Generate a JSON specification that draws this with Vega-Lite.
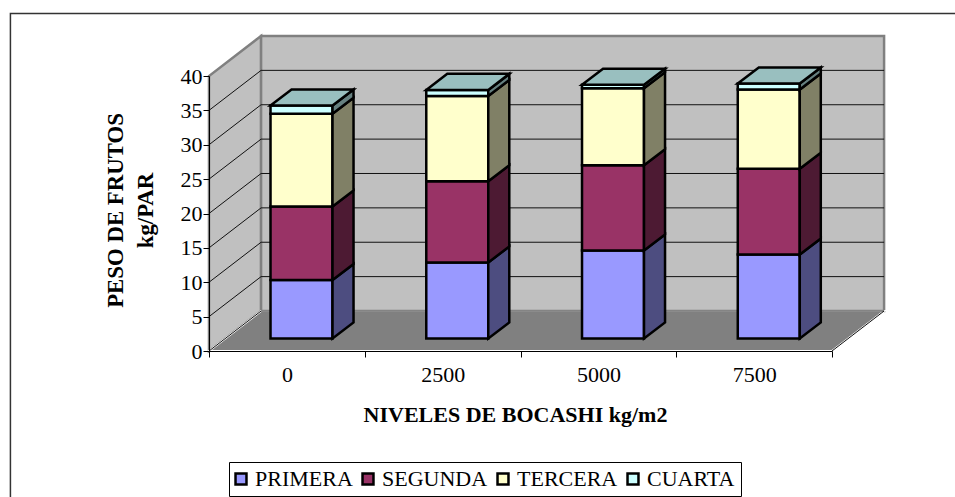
{
  "$schema": "https://vega.github.io/schema/vega-lite/v6.json",
  "width": 623,
  "height": 275,
  "autosize": {"type": "none"},
  "padding": {"left": 209, "top": 76, "right": 123, "bottom": 146},
  "background": "white",
  "config": {"view": {"stroke": null}, "font": "Liberation Serif"},
  "datasets": {
    "pesos": [
      {"nivel": 0, "serie": "PRIMERA", "peso": 8.5},
      {"nivel": 0, "serie": "SEGUNDA", "peso": 10.7},
      {"nivel": 0, "serie": "TERCERA", "peso": 13.5},
      {"nivel": 0, "serie": "CUARTA", "peso": 1.2},
      {"nivel": 2500, "serie": "PRIMERA", "peso": 11.06},
      {"nivel": 2500, "serie": "SEGUNDA", "peso": 11.8},
      {"nivel": 2500, "serie": "TERCERA", "peso": 12.4},
      {"nivel": 2500, "serie": "CUARTA", "peso": 0.9},
      {"nivel": 5000, "serie": "PRIMERA", "peso": 12.8},
      {"nivel": 5000, "serie": "SEGUNDA", "peso": 12.4},
      {"nivel": 5000, "serie": "TERCERA", "peso": 11.2},
      {"nivel": 5000, "serie": "CUARTA", "peso": 0.5},
      {"nivel": 7500, "serie": "PRIMERA", "peso": 12.2},
      {"nivel": 7500, "serie": "SEGUNDA", "peso": 12.5},
      {"nivel": 7500, "serie": "TERCERA", "peso": 11.5},
      {"nivel": 7500, "serie": "CUARTA", "peso": 0.9}
    ],
    "marcas": [
      {"marca": 0}, {"marca": 5}, {"marca": 10}, {"marca": 15}, {"marca": 20},
      {"marca": 25}, {"marca": 30}, {"marca": 35}
    ],
    "fondo": [{"prof": 0}, {"prof": 1}]
  },
  "encoding": {
    "x": {
      "field": "px",
      "type": "quantitative",
      "stack": null,
      "scale": {"domain": [0, 4], "nice": false, "zero": false},
      "axis": {
        "values": [0, 0.5, 1, 1.5, 2, 2.5, 3, 3.5, 4],
        "labelExpr": "datum.value % 1 ? format((datum.value - 0.5) * 2500, 'd') : ''",
        "tickOpacity": {"condition": {"test": "datum.value % 1 != 0", "value": 0}, "value": 1},
        "grid": false,
        "domainColor": "black",
        "tickColor": "black",
        "tickSize": 6,
        "labelFont": "Liberation Serif",
        "labelFontSize": 22,
        "labelColor": "black",
        "labelPadding": 7,
        "labelOverlap": false,
        "title": "NIVELES DE BOCASHI kg/m2",
        "titleFont": "Liberation Serif",
        "titleFontSize": 22,
        "titleFontWeight": "bold",
        "titleColor": "black",
        "titleX": 306,
        "titleY": 53,
        "zindex": 1
      }
    },
    "y": {
      "field": "py",
      "type": "quantitative",
      "stack": null,
      "scale": {"domain": [0, 40], "nice": false, "zero": false},
      "axis": {
        "values": [0, 5, 10, 15, 20, 25, 30, 35, 40],
        "grid": false,
        "domainColor": "black",
        "tickColor": "black",
        "tickSize": 6,
        "labelFont": "Liberation Serif",
        "labelFontSize": 22,
        "labelColor": "black",
        "labelPadding": 1,
        "title": ["PESO DE FRUTOS", "kg/PAR"],
        "titleFont": "Liberation Serif",
        "titleFontSize": 22.8,
        "titleFontWeight": "bold",
        "titleColor": "black",
        "titleLineHeight": 30,
        "titleX": -82,
        "titleY": 134,
        "zindex": 1
      }
    }
  },
  "layer": [
    {
      "data": {"values": [{"marco": 1}]},
      "transform": [
        {"calculate": "-1.275", "as": "px"},
        {"calculate": "6", "as": "px2"},
        {"calculate": "49.09", "as": "py"},
        {"calculate": "-40", "as": "py2"}
      ],
      "mark": {"type": "rect", "fill": "white", "stroke": "#333333", "strokeWidth": 1.5},
      "encoding": {"x2": {"field": "px2"}, "y2": {"field": "py2"}}
    },
    {
      "data": {"name": "fondo"},
      "transform": [
        {"calculate": "datum.prof * 0.3344", "as": "px"},
        {"calculate": "datum.prof * 5.82", "as": "py"},
        {"calculate": "40 + datum.prof * 5.82", "as": "py2"}
      ],
      "mark": {"type": "area", "fill": "#C0C0C0", "stroke": "#808080", "strokeWidth": 2.5},
      "encoding": {"y2": {"field": "py2"}}
    },
    {
      "data": {"values": [{"pared": 1}]},
      "transform": [
        {"calculate": "0.3344", "as": "px"},
        {"calculate": "4.3344", "as": "px2"},
        {"calculate": "5.82", "as": "py"},
        {"calculate": "45.82", "as": "py2"}
      ],
      "mark": {"type": "rect", "fill": "#C0C0C0", "stroke": "#808080", "strokeWidth": 2.5},
      "encoding": {"x2": {"field": "px2"}, "y2": {"field": "py2"}}
    },
    {
      "data": {"name": "fondo"},
      "transform": [
        {"calculate": "datum.prof * 5.82", "as": "py"},
        {"calculate": "datum.prof * 0.3344", "as": "px"},
        {"calculate": "4 + datum.prof * 0.3344", "as": "px2"}
      ],
      "mark": {"type": "area", "orient": "horizontal", "fill": "#808080", "stroke": "white", "strokeWidth": 2},
      "encoding": {"x2": {"field": "px2"}}
    },
    {
      "data": {"name": "marcas"},
      "transform": [
        {"calculate": "0.3344", "as": "px"},
        {"calculate": "4.3344", "as": "px2"},
        {"calculate": "datum.marca + 5.82", "as": "py"},
        {"calculate": "datum.py", "as": "py2"}
      ],
      "mark": {"type": "rule", "color": "#111111", "strokeWidth": 1},
      "encoding": {"x2": {"field": "px2"}, "y2": {"field": "py2"}}
    },
    {
      "data": {"name": "marcas"},
      "transform": [
        {"calculate": "0", "as": "px"},
        {"calculate": "0.3344", "as": "px2"},
        {"calculate": "datum.marca", "as": "py"},
        {"calculate": "datum.marca + 5.82", "as": "py2"}
      ],
      "mark": {"type": "rule", "color": "#111111", "strokeWidth": 1},
      "encoding": {"x2": {"field": "px2"}, "y2": {"field": "py2"}}
    },
    {
      "data": {"values": [{"borde": 1}]},
      "transform": [
        {"calculate": "4", "as": "px"},
        {"calculate": "4.3344", "as": "px2"},
        {"calculate": "0", "as": "py"},
        {"calculate": "5.82", "as": "py2"}
      ],
      "mark": {"type": "rule", "color": "#111111", "strokeWidth": 1},
      "encoding": {"x2": {"field": "px2"}, "y2": {"field": "py2"}}
    },
    {
      "data": {"name": "pesos"},
      "transform": [
        {"calculate": "indexof(['PRIMERA','SEGUNDA','TERCERA','CUARTA'], datum.serie)", "as": "orden"},
        {"stack": "peso", "groupby": ["nivel"], "sort": [{"field": "orden"}], "as": ["ini", "fin"]},
        {"calculate": "datum.nivel / 2500 + 0.395", "as": "px"},
        {"calculate": "datum.px + 0.398", "as": "px2"},
        {"calculate": "datum.fin + 1.82", "as": "py"},
        {"calculate": "datum.ini + 1.82", "as": "py2"}
      ],
      "mark": {"type": "rect", "stroke": "black", "strokeWidth": 2.5},
      "encoding": {
        "x2": {"field": "px2"},
        "y2": {"field": "py2"},
        "fill": {
          "field": "serie",
          "type": "nominal",
          "scale": {
            "domain": ["PRIMERA", "SEGUNDA", "TERCERA", "CUARTA"],
            "range": ["#9999FF", "#993366", "#FFFFCC", "#CCFFFF"]
          },
          "legend": {
            "orient": "none",
            "legendX": 20,
            "legendY": 386,
            "direction": "horizontal",
            "columns": 4,
            "title": null,
            "gridAlign": "none",
            "columnPadding": 4,
            "padding": 6,
            "strokeColor": "black",
            "fillColor": "white",
            "symbolType": "square",
            "symbolSize": 120,
            "symbolOffset": -5,
            "symbolStrokeColor": "black",
            "symbolStrokeWidth": 2.5,
            "symbolOpacity": 1,
            "labelFont": "Liberation Serif",
            "labelFontSize": 22,
            "labelColor": "black",
            "labelOffset": 3,
            "labelLimit": 200
          }
        }
      }
    },
    {
      "data": {"name": "pesos"},
      "transform": [
        {"calculate": "indexof(['PRIMERA','SEGUNDA','TERCERA','CUARTA'], datum.serie)", "as": "orden"},
        {"stack": "peso", "groupby": ["nivel"], "sort": [{"field": "orden"}], "as": ["ini", "fin"]},
        {"calculate": "[0, 1]", "as": "profs"},
        {"flatten": ["profs"], "as": ["prof"]},
        {"calculate": "datum.nivel / 2500 + 0.793 + datum.prof * 0.135", "as": "px"},
        {"calculate": "datum.fin + 1.82 + datum.prof * 2.33", "as": "py"},
        {"calculate": "datum.ini + 1.82 + datum.prof * 2.33", "as": "py2"}
      ],
      "mark": {"type": "area", "stroke": "black", "strokeWidth": 2.5},
      "encoding": {
        "y2": {"field": "py2"},
        "detail": {"field": "nivel"},
        "fill": {
          "field": "serie",
          "type": "nominal",
          "scale": {
            "domain": ["PRIMERA", "SEGUNDA", "TERCERA", "CUARTA"],
            "range": ["#4D4D80", "#4D1A33", "#808066", "#668080"]
          },
          "legend": null
        }
      }
    },
    {
      "data": {"name": "pesos"},
      "transform": [
        {"calculate": "indexof(['PRIMERA','SEGUNDA','TERCERA','CUARTA'], datum.serie)", "as": "orden"},
        {"stack": "peso", "groupby": ["nivel"], "sort": [{"field": "orden"}], "as": ["ini", "fin"]},
        {"filter": "datum.serie === 'CUARTA'"},
        {"calculate": "[0, 1]", "as": "profs"},
        {"flatten": ["profs"], "as": ["prof"]},
        {"calculate": "datum.nivel / 2500 + 0.395 + datum.prof * 0.135", "as": "px"},
        {"calculate": "datum.px + 0.398", "as": "px2"},
        {"calculate": "datum.fin + 1.82 + datum.prof * 2.33", "as": "py"}
      ],
      "mark": {"type": "area", "orient": "horizontal", "fill": "#99BFBF", "stroke": "black", "strokeWidth": 2.5},
      "encoding": {
        "x2": {"field": "px2"},
        "detail": {"field": "nivel"}
      }
    }
  ],
  "resolve": {"scale": {"fill": "independent"}}
}
